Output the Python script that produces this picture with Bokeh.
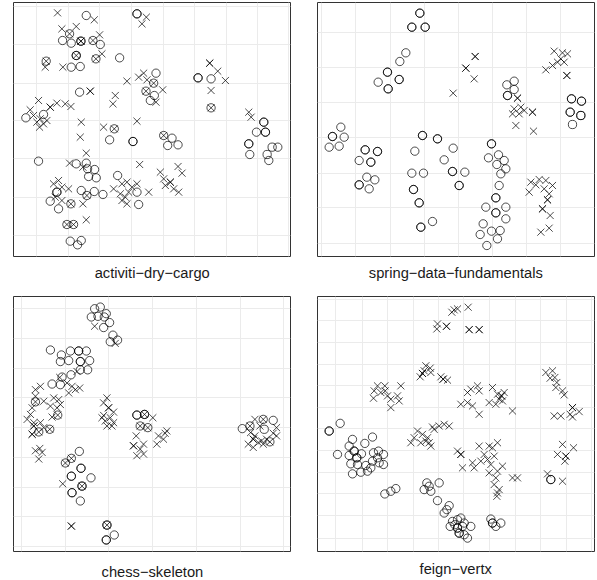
from bokeh.plotting import figure
from bokeh.layouts import column, row
from bokeh.models import Range1d, FixedTicker
from bokeh.core.properties import value
from bokeh.embed import file_html
from bokeh.resources import INLINE

# ---------------- data (arbitrary embedding units) ----------------
titles = ["activiti\u2212dry\u2212cargo", "spring\u2212data\u2212fundamentals",
          "chess\u2212skeleton", "feign\u2212vertx"]

# panel 1: activiti-dry-cargo
p1_circle_x = [258, 410, 410, 208, 187, 213, 242, 242, 278, 300, 228, 228, 138, 287, 358, 213, 240,
               593, 593, 632, 467, 460, 437, 462, 450, 238, 632, 77, 130, 342, 328, 398, 398, 490,
               515, 502, 533, 790, 790, 768, 795, 795, 745, 745, 748, 815, 832, 800, 805, 115, 228,
               258, 262, 283, 265, 288, 352, 410, 415, 170, 170, 150, 175, 212, 243, 260, 282, 308,
               200, 220, 210, 232, 243]
p1_circle_y = [755, 760, 760, 700, 680, 672, 678, 678, 680, 668, 635, 635, 618, 625, 628, 600, 602,
               568, 568, 565, 582, 552, 528, 515, 500, 525, 478, 448, 458, 415, 382, 377, 377, 395,
               387, 365, 367, 435, 435, 405, 405, 405, 370, 370, 338, 360, 360, 338, 320, 318, 310,
               312, 295, 293, 272, 268, 275, 225, 188, 225, 225, 198, 175, 190, 230, 215, 227, 218,
               128, 128, 78, 67, 80]
p1_cross_x = [172, 282, 438, 425, 185, 228, 298, 305, 135, 188, 628, 628, 652, 675, 632, 380, 415,
              430, 440, 487, 467, 270, 270, 345, 338, 745, 752, 115, 90, 150, 150, 170, 195, 212,
              100, 120, 130, 140, 118, 110, 243, 410, 310, 240, 258, 208, 248, 418, 533, 545, 480,
              510, 510, 490, 495, 520, 535, 340, 365, 380, 395, 410, 360, 375, 385, 445, 380, 365,
              160, 175, 185, 205, 165, 185, 248, 258,
              208, 242, 242, 278, 228, 138, 287, 460, 437, 632, 342, 490, 212, 260, 200, 220]
p1_cross_y = [763, 742, 750, 730, 715, 722, 697, 640, 600, 600, 612, 612, 588, 560, 530, 558, 570,
              582, 562, 532, 495, 528, 528, 515, 490, 465, 450, 500, 472, 480, 480, 492, 490, 482,
              455, 445, 430, 440, 420, 435, 435, 438, 420, 390, 342, 312, 300, 308, 302, 282, 285,
              255, 255, 265, 245, 235, 225, 235, 250, 255, 240, 250, 220, 210, 225, 225, 190, 200,
              250, 260, 240, 235, 210, 200, 190, 142,
              700, 678, 678, 680, 635, 618, 625, 552, 528, 478, 415, 395, 190, 215, 128, 128]

# panel 2: spring-data-fundamentals
p2_circle_x = [367, 367, 343, 343, 383, 383, 325, 307, 270, 270, 305, 305, 242, 272, 272, 628, 650,
               650, 630, 630, 822, 822, 852, 852, 818, 818, 850, 850, 825, 130, 105, 105, 140, 95,
               125, 203, 203, 240, 240, 185, 220, 220, 208, 232, 185, 185, 215, 375, 375, 420, 420,
               352, 343, 378, 348, 348, 365, 365, 370, 370, 405, 467, 440, 465, 465, 502, 485, 485,
               582, 582, 573, 603, 598, 620, 625, 610, 605, 595, 595, 565, 595, 595, 625, 625, 557,
               582, 548, 608, 600, 568]
p2_circle_y = [762, 762, 720, 720, 720, 720, 643, 617, 585, 585, 563, 563, 555, 535, 535, 547, 558,
               533, 515, 515, 505, 505, 498, 498, 465, 465, 455, 455, 428, 420, 392, 392, 390, 360,
               363, 352, 352, 347, 347, 320, 315, 315, 270, 262, 247, 247, 235, 395, 395, 385, 385,
               348, 282, 282, 233, 233, 193, 193, 120, 120, 137, 357, 322, 287, 287, 285, 245, 245,
               370, 370, 328, 337, 308, 320, 295, 280, 245, 208, 208, 180, 163, 163, 180, 145, 130,
               108, 98, 110, 85, 65]
p2_cross_x = [533, 533, 505, 505, 530, 467, 770, 795, 810, 790, 780, 800, 765, 745, 808, 808, 660,
              660, 650, 670, 665, 645, 705, 705, 680, 655, 708, 700, 725, 745, 715, 765, 695, 740,
              755, 750, 750, 735, 735, 758, 730, 755]
p2_cross_y = [632, 632, 597, 597, 565, 522, 648, 643, 640, 625, 615, 615, 605, 592, 575, 575, 507,
              507, 475, 480, 460, 460, 465, 465, 470, 425, 408, 255, 263, 260, 247, 245, 225, 235,
              220, 202, 202, 175, 175, 155, 105, 117]

# panel 3: chess-skeleton
p3_circle_x = [283, 300, 318, 273, 293, 312, 328, 310, 338, 330, 352, 150, 183, 210, 235, 235, 258,
               180, 205, 240, 240, 268, 240, 262, 212, 185, 155, 180, 105, 172, 115, 148, 410, 410,
               433, 433, 420, 443, 727, 750, 790, 820, 793, 810, 237, 213, 195, 242, 242, 213, 213,
               272, 245, 245, 215, 215, 240, 320, 320, 318, 318, 342]
p3_circle_y = [745, 750, 730, 720, 722, 720, 703, 688, 665, 645, 650, 620, 605, 617, 617, 617, 617,
               585, 588, 585, 585, 588, 560, 560, 545, 538, 517, 515, 463, 423, 372, 380, 423, 423,
               425, 425, 390, 385, 382, 390, 410, 407, 380, 342, 313, 292, 278, 262, 262, 238, 238,
               233, 208, 208, 188, 188, 163, 90, 90, 45, 45, 60]
p3_cross_x = [283, 345, 230, 178, 200, 215, 225, 238, 205, 120, 105, 105, 130, 160, 175, 180, 170,
              150, 95, 90, 155, 80, 100, 100, 100, 120, 95, 95, 130, 118, 105, 125, 115, 320, 310,
              325, 325, 340, 310, 330, 315, 340, 320, 335, 305, 458, 408, 400, 400, 430, 420, 410,
              430, 475, 495, 490, 470, 500, 765, 780, 830, 765, 760, 760, 745, 775, 785, 800, 830,
              760, 790, 820, 752, 187, 213, 213,
              105, 172, 115, 148, 433, 420, 443, 750, 790, 810, 213, 195, 245, 320]
p3_cross_y = [692, 640, 555, 537, 520, 510, 500, 505, 490, 510, 500, 480, 465, 475, 470, 455, 445,
              450, 445, 425, 417, 410, 400, 390, 390, 400, 365, 365, 385, 322, 315, 310, 290, 475, 460,
              445, 445, 432, 422, 415, 405, 400, 390, 390, 415, 415, 360, 330, 330, 335, 320, 300,
              305, 360, 368, 350, 335, 375, 410, 390, 385, 360, 350, 350, 335, 340, 345, 350, 360,
              325, 335, 368, 370, 215, 87, 87,
              463, 423, 372, 380, 425, 390, 385, 390, 410, 342, 292, 278, 208, 90]

# panel 4: feign-vertx
p4_circle_x = [95, 95, 128, 165, 155, 225, 202, 120, 155, 170, 170, 192, 178, 178, 228, 243, 258,
               160, 180, 205, 225, 240, 258, 165, 190, 210, 220, 245, 760, 760, 262, 280, 295, 388,
               380, 400, 395, 425, 420, 455, 448, 440, 465, 480, 490, 458, 472, 480, 480, 495, 500,
               520, 485, 485, 510, 500, 580, 585, 585, 610, 595]
p4_circle_y = [380, 380, 403, 355, 335, 362, 343, 310, 307, 320, 320, 312, 300, 300, 315, 320, 310,
               282, 280, 277, 290, 300, 280, 252, 257, 260, 270, 285, 235, 235, 192, 200, 208, 225,
               205, 200, 215, 225, 172, 157, 145, 135, 110, 115, 120, 95, 100, 90, 90, 95, 105,
               95, 75, 75, 60, 70, 117, 105, 105, 105, 95]
p4_cross_x = [470, 480, 512, 463, 420, 447, 447, 418, 515, 515, 545, 545, 385, 398, 375, 375, 368,
              430, 437, 437, 450, 400, 380, 240, 262, 230, 250, 270, 228, 310, 300, 280, 305, 280,
              263, 520, 540, 510, 545, 585, 490, 510, 525, 545, 575, 600, 612, 612, 605, 615, 595,
              645, 620, 745, 765, 758, 778, 775, 795, 800, 772, 770, 790, 825, 825, 845, 818, 825,
              350, 340, 360, 375, 390, 395, 410, 405, 425, 440, 455, 370, 400, 385, 480, 490, 490,
              495, 525, 530, 545, 575, 600, 585, 560, 570, 550, 590, 580, 600, 615, 575, 595, 590,
              600, 598, 605, 645, 660, 750, 795, 795, 828, 780, 805, 805, 802]
p4_cross_y = [742, 745, 750, 735, 700, 693, 693, 685, 683, 683, 683, 683, 575, 568, 552, 552, 542,
              542, 535, 535, 532, 555, 560, 515, 515, 500, 495, 485, 478, 515, 485, 475, 470, 450,
              500, 505, 515, 495, 500, 510, 460, 465, 455, 430, 465, 490, 485, 485, 475, 470, 460,
              440, 495, 555, 560, 538, 525, 510, 500, 488, 540, 425, 425, 450, 450, 438, 430, 422,
              360, 345, 380, 370, 360, 345, 385, 392, 395, 400, 395, 345, 335, 350, 320, 310, 310,
              270, 285, 270, 335, 335, 345, 330, 310, 295, 290, 305, 280, 260, 275, 255, 240, 220,
              195, 185, 205, 240, 240, 252, 230, 340, 330, 310, 305, 305, 290]

# grid positions and ranges (same units)
p1_grid_x = [110, 205, 298, 393, 488, 582, 677, 770, 864]
p1_grid_y = [782, 668, 552, 440, 325, 210, 95]
p2_grid_x = [71, 174, 278, 380, 482, 585, 688, 790]
p2_grid_y = [705, 600, 495, 390, 282, 178, 70]
p3_grid_x = [62, 195, 325, 458, 590, 722, 852]
p3_grid_y = [745, 655, 565, 475, 385, 295, 205, 115, 25]
p4_grid_x = [114, 194, 271, 347, 424, 499, 576, 654, 729, 806, 882]
p4_grid_y = [772, 710, 645, 580, 515, 450, 387, 322, 257, 192, 127, 60]

p1_range = ((40, 870), (32, 794))
p2_range = ((60, 891), (32, 794))
p3_range = ((39, 872), (10, 782))
p4_range = ((60, 891), (20, 782))


def make_panel(cx, cy, xx, xy, rng, gx, gy, width, height, ml, mr, mt, mb):
    p = figure(width=width, height=height,
               x_range=Range1d(*rng[0]), y_range=Range1d(*rng[1]),
               output_backend="svg", toolbar_location=None,
               min_border_left=ml, min_border_right=mr,
               min_border_top=mt, min_border_bottom=mb)
    p.axis.visible = False
    p.xgrid.ticker = FixedTicker(ticks=gx)
    p.ygrid.ticker = FixedTicker(ticks=gy)
    p.grid.grid_line_color = "#ebebeb"
    p.grid.grid_line_width = 1
    p.outline_line_color = "#333333"
    p.outline_line_width = 1
    p.background_fill_color = "white"
    p.border_fill_color = "white"
    p.scatter(cx, cy, marker="circle", size=8.3, fill_color=None,
              line_color="black", line_alpha=0.7, line_width=1)
    p.scatter(xx, xy, marker="x", size=10,
              line_color="black", line_alpha=0.7, line_width=1)
    return p


def make_title(text, width, height, tx, ty):
    # a strip (in pixel units) that carries the panel's caption below it
    t = figure(width=width, height=height, x_range=Range1d(0, width), y_range=Range1d(0, height),
               output_backend="svg", toolbar_location=None,
               min_border_left=0, min_border_right=0, min_border_top=0, min_border_bottom=0)
    t.axis.visible = False
    t.grid.visible = False
    t.outline_line_color = None
    t.background_fill_color = "white"
    t.border_fill_color = "white"
    t.text(x=[tx], y=[ty], text=[text], text_align="center", text_baseline="alphabetic",
           text_font=value("Liberation Sans"), text_font_size="14.7px", text_color="#1a1a1a")
    return t


f1 = make_panel(p1_circle_x, p1_circle_y, p1_cross_x, p1_cross_y, p1_range,
                p1_grid_x, p1_grid_y, 297, 257, 13, 7, 2, 1)
f2 = make_panel(p2_circle_x, p2_circle_y, p2_cross_x, p2_cross_y, p2_range,
                p2_grid_x, p2_grid_y, 300, 257, 20, 3, 2, 1)
f3 = make_panel(p3_circle_x, p3_circle_y, p3_cross_x, p3_cross_y, p3_range,
                p3_grid_x, p3_grid_y, 297, 265, 13, 7, 6, 2)
f4 = make_panel(p4_circle_x, p4_circle_y, p4_cross_x, p4_cross_y, p4_range,
                p4_grid_x, p4_grid_y, 300, 265, 20, 3, 6, 4)

t1 = make_title(titles[0], 297, 33, 151.7, 17.4)
t2 = make_title(titles[1], 300, 33, 158.3, 17.4)
t3 = make_title(titles[2], 297, 25, 151.9, 9.0)
t4 = make_title(titles[3], 300, 25, 158.2, 11.5)

layout = column(row(f1, f2, spacing=0), row(t1, t2, spacing=0),
                row(f3, f4, spacing=0), row(t3, t4, spacing=0), spacing=0,
                styles={"position": "absolute", "left": "0px", "top": "0px"})

open("out.html", "w").write(file_html(layout, INLINE))
